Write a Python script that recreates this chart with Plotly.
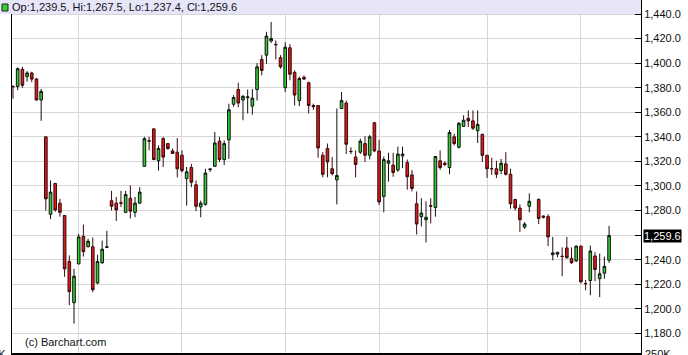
import plotly.graph_objects as go

# ---- data ----
opens = [1381, 1381, 1395, 1389, 1392, 1387, 1370, 1340, 1277, 1302,
         1286, 1276, 1238.5, 1205, 1236.5, 1259, 1250.5, 1250.5, 1221, 1237.5,
         1250, 1288, 1286, 1286.3, 1278.5, 1290, 1278.5, 1286, 1316, 1336.8,
         1346.5, 1320.5, 1338.5, 1334.5, 1328.5, 1327.5, 1325, 1306, 1315, 1301,
         1283, 1285, 1313.3, 1316, 1336.5, 1321.5, 1337.5, 1366.5, 1378.5, 1370,
         1371.8, 1365, 1378.5, 1403, 1406.5, 1418, 1415.3, 1404.5, 1380, 1412.5,
         1392.5, 1369.5, 1388.5, 1384, 1365.5, 1365.5, 1325, 1330.5, 1314, 1305,
         1363, 1367.5, 1328.2, 1323.5, 1327.5, 1334.5, 1325, 1351.5, 1328.5, 1291.5,
         1318.5, 1317, 1313, 1324.5, 1319, 1309, 1285.5, 1275, 1272.5, 1284,
         1282.5, 1320.5, 1318.5, 1315, 1340, 1331.5, 1348.5, 1355, 1353, 1345,
         1342, 1325, 1314.2, 1314, 1312.5, 1318, 1309.5, 1289, 1282, 1266.5,
         1283.5, 1289, 1275.5, 1275, 1244, 1244.5, 1242.8, 1249.5, 1241, 1239,
         1251, 1220.6, 1223, 1243, 1224.5, 1229, 1239.5]
highs = [1382, 1396.5, 1397, 1393.5, 1393, 1388, 1379, 1340, 1304.5, 1302.5,
         1289.5, 1276, 1243.5, 1232.5, 1261, 1268.5, 1257, 1258, 1244, 1255.5,
         1263.5, 1296, 1291, 1296, 1296, 1300.5, 1291, 1299, 1340, 1340,
         1346.5, 1333, 1340, 1334.5, 1330.5, 1339, 1329, 1315.5, 1318, 1304.5,
         1288, 1314, 1314, 1344, 1340, 1337, 1367, 1374, 1384, 1374,
         1378.5, 1379, 1400, 1406.5, 1425.5, 1433.5, 1418.5, 1406.5, 1417, 1415.5,
         1394, 1389, 1390, 1385, 1367, 1365.5, 1327.5, 1334.5, 1323.5, 1363,
         1376.5, 1369.5, 1331.5, 1329, 1338.5, 1340.5, 1341.5, 1352, 1337.5, 1324,
         1327, 1327, 1332, 1332, 1321.5, 1313, 1295.5, 1290, 1287.5, 1290,
         1324, 1329, 1320, 1345.5, 1342.5, 1352, 1357.5, 1361.5, 1361.5, 1361.5,
         1342.5, 1325, 1323, 1320.5, 1322, 1327.5, 1314, 1289.5, 1285, 1270.5,
         1294, 1290, 1276, 1277, 1258.5, 1246, 1250, 1258.5, 1250, 1251.5,
         1251.5, 1223.5, 1251.5, 1246, 1245, 1242.5, 1267.5]
lows = [1371, 1378, 1380, 1385, 1384.5, 1369.5, 1353, 1280, 1273, 1279,
        1275, 1226, 1203, 1188, 1236.5, 1242.5, 1250, 1213.5, 1220, 1236.5,
        1249.5, 1280, 1271.5, 1283, 1278.5, 1273.5, 1274.5, 1285.5, 1315.5, 1329,
        1321, 1312.5, 1315.5, 1329.5, 1326, 1307, 1311, 1284, 1299, 1279.5,
        1274.5, 1284, 1311.5, 1315.5, 1319.5, 1317, 1322, 1364.5, 1364, 1353.5,
        1359, 1358, 1369.5, 1390, 1399.5, 1416.5, 1403, 1395.5, 1376.5, 1386,
        1365.5, 1365, 1386.5, 1359, 1362, 1323, 1307, 1307, 1308.5, 1285,
        1363, 1326, 1326, 1307, 1326, 1319.5, 1321.5, 1327.5, 1284.5, 1278.5,
        1303.5, 1307.5, 1311.5, 1314.5, 1297, 1295.5, 1260.5, 1267, 1254, 1269.5,
        1275, 1313, 1316, 1309.5, 1333, 1330.5, 1348, 1348, 1345.5, 1335,
        1319.5, 1306.5, 1309, 1306.5, 1309.5, 1308.5, 1281.5, 1280, 1262.5, 1265,
        1278.5, 1269, 1273.5, 1251, 1239.5, 1242, 1226.5, 1241, 1236.5, 1238,
        1220.5, 1215, 1211, 1222.5, 1209.5, 1224.5, 1237.4]
closes = [1380.8, 1395.5, 1382, 1392, 1387, 1370, 1377, 1289.5, 1295, 1280.5,
          1278.5, 1232.5, 1214, 1226.5, 1258.5, 1246.5, 1255, 1215.5, 1238.5, 1248.5,
          1250.4, 1283.5, 1280.5, 1286, 1293, 1279.5, 1286, 1295, 1338.5, 1336.5,
          1321.5, 1330.5, 1323.5, 1330.5, 1326.5, 1314, 1312.5, 1311.5, 1303, 1283.5,
          1286, 1310.5, 1313.8, 1335, 1321.5, 1334.5, 1362, 1372, 1367.5, 1373,
          1372.5, 1371.5, 1397, 1394, 1422, 1420, 1415, 1397, 1413, 1391,
          1374, 1387.5, 1387, 1365.5, 1364.5, 1331, 1309.5, 1319.5, 1310, 1308.5,
          1369.5, 1334, 1328, 1317.5, 1336.5, 1325, 1340, 1328.5, 1287, 1321.5,
          1320.5, 1311, 1326, 1326, 1307.5, 1298, 1269, 1278, 1274.5, 1283.6,
          1324, 1315, 1317.5, 1343.5, 1334.5, 1351, 1353.5, 1353, 1347, 1350,
          1325, 1314, 1314, 1309.5, 1318.5, 1309.5, 1285.5, 1282, 1272.5, 1269,
          1287.5, 1273.5, 1274.5, 1258.5, 1245.5, 1246, 1242.6, 1241.5, 1237.5, 1251,
          1222, 1220.4, 1247, 1232, 1228.5, 1234.5, 1259.6]

# trading-day slots (one day without a bar near the end)
day = list(range(111)) + list(range(112, 128))
month_starts = [14, 36, 58, 78, 101, 121]
price_ticks = [1180, 1200, 1220, 1240, 1260, 1280, 1300, 1320, 1340,
               1360, 1380, 1400, 1420, 1440]
last_o, last_h, last_l, last_c = 1239.5, 1267.5, 1237.4, 1259.6

# ---- layout geometry ----
W, H = 688, 355
ML, MR, MT, MB = 12, 47, 0, 2
PW, PH = W - ML - MR, H - MT - MB
YR = [1164, 1451.4]
XR = [-0.21, 133.8]


def px2x(px):
    return (px - ML) / PW


def py2y(py):
    return 1 - (py - MT) / PH


FONT = "Liberation Sans"
GREEN = "#2fd12f"
RED = "#d41c1c"
GRID = "#d6d6d6"

fig = go.Figure()
fig.add_trace(go.Candlestick(
    x=day, open=opens, high=highs, low=lows, close=closes,
    increasing=dict(fillcolor=GREEN, line=dict(color="#111111", width=1)),
    decreasing=dict(fillcolor=RED, line=dict(color="#3a0a0a", width=1)),
    whiskerwidth=0, showlegend=False, hoverinfo="skip",
))

band_y0 = (1440 - YR[0]) / (YR[1] - YR[0])
shapes = [
    dict(type="rect", xref="paper", yref="paper", x0=px2x(0), x1=1,
         y0=band_y0, y1=1, fillcolor="#e6e6f8", line=dict(width=0),
         layer="above"),
    dict(type="rect", xref="paper", yref="paper", x0=px2x(2), x1=px2x(8),
         y0=py2y(11), y1=py2y(4), fillcolor=GREEN,
         line=dict(color="#222222", width=1), layer="above"),
]

legend_text = "Op:{:,.1f}, Hi:{:,.1f}, Lo:{:,.1f}, Cl:{:,.1f}".format(
    last_o, last_h, last_l, last_c)

annotations = [
    dict(text=legend_text, xref="paper", yref="paper", x=px2x(10), y=py2y(7.5),
         xanchor="left", yanchor="middle", showarrow=False,
         font=dict(family=FONT, size=11, color="#111111")),
    dict(text="(c) Barchart.com", xref="paper", yref="paper", x=px2x(23),
         y=py2y(341.5), xanchor="left", yanchor="middle", showarrow=False,
         font=dict(family=FONT, size=11, color="#111111")),
    dict(text="{:,.1f}".format(last_c), xref="paper", yref="y", x=1,
         y=last_c, xanchor="left", yanchor="middle", xshift=2,
         showarrow=False, bgcolor="#000000", borderpad=0,
         font=dict(family=FONT, size=11, color="#ffffff")),
    dict(text="250K", xref="paper", yref="paper", x=1, y=py2y(346),
         xanchor="left", yanchor="top", xshift=2, showarrow=False,
         font=dict(family=FONT, size=11, color="#111111")),
    dict(text="250K", xref="paper", yref="paper", x=px2x(8), y=py2y(346),
         xanchor="right", yanchor="top", showarrow=False,
         font=dict(family=FONT, size=11, color="#111111")),
]

fig.update_layout(
    width=W, height=H,
    margin=dict(l=ML, r=MR, t=MT, b=MB, pad=0),
    paper_bgcolor="white", plot_bgcolor="white",
    boxgap=0.2,
    shapes=shapes, annotations=annotations,
    xaxis=dict(range=XR, tickmode="array", tickvals=month_starts,
               showticklabels=False, ticks="", showgrid=True,
               gridcolor=GRID, gridwidth=1, zeroline=False,
               showline=True, linecolor="black", linewidth=2,
               rangeslider=dict(visible=False), fixedrange=True),
    yaxis=dict(range=YR, side="right", tickmode="array", tickvals=price_ticks,
               tickformat=",.1f", ticks="inside", ticklen=6, tickcolor="black",
               showgrid=True, gridcolor=GRID, gridwidth=1, zeroline=False,
               showline=True, mirror=True, linecolor="black", linewidth=1,
               tickfont=dict(family=FONT, size=11, color="#111111"),
               fixedrange=True),
)

fig.write_html("out.html")
